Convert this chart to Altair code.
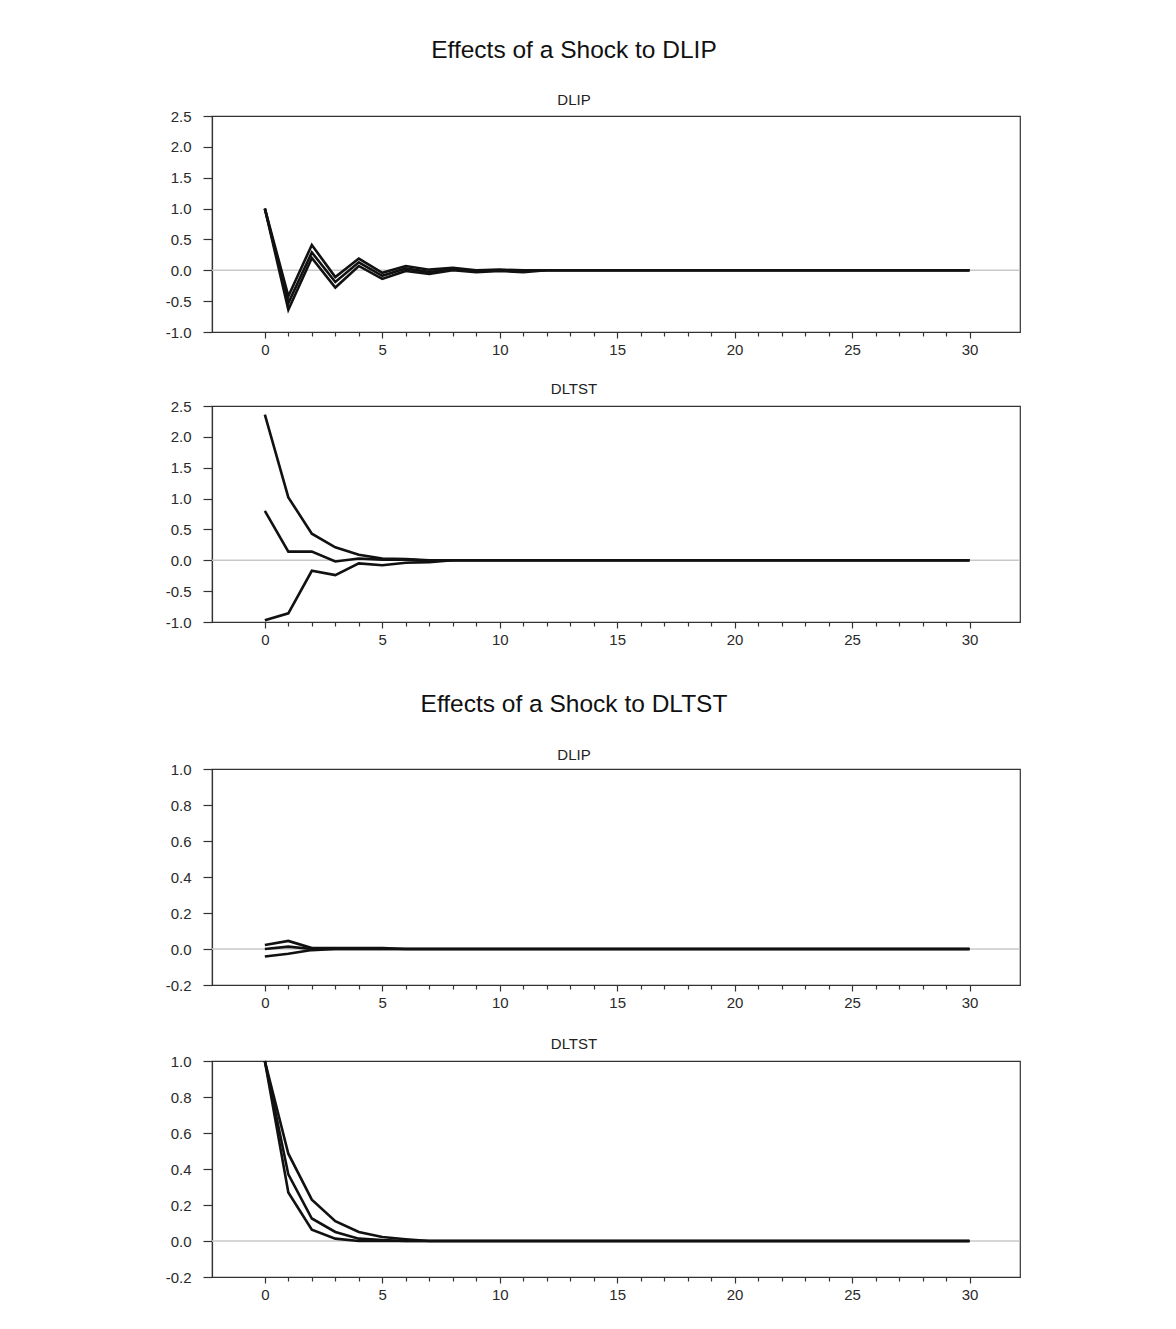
import altair as alt
import pandas as pd

# Horizon (periods after shock)
horizon = [0, 1, 2, 3, 4, 5, 6, 7, 8, 9, 10, 11, 12, 13, 14, 15,
           16, 17, 18, 19, 20, 21, 22, 23, 24, 25, 26, 27, 28, 29, 30]

# Shock to DLIP -> response of DLIP (upper band, estimate, lower band)
dlip_dlip_upper = [1.00, -0.42, 0.41, -0.11, 0.19, -0.04, 0.07, 0.01, 0.04, 0.00, 0.01,
                   0.00, 0.00, 0.00, 0.00, 0.00, 0.00, 0.00, 0.00, 0.00, 0.00, 0.00,
                   0.00, 0.00, 0.00, 0.00, 0.00, 0.00, 0.00, 0.00, 0.00]
dlip_dlip_mid = [1.00, -0.53, 0.29, -0.19, 0.13, -0.09, 0.03, -0.03, 0.02, -0.01, 0.00,
                 -0.01, 0.00, 0.00, 0.00, 0.00, 0.00, 0.00, 0.00, 0.00, 0.00, 0.00,
                 0.00, 0.00, 0.00, 0.00, 0.00, 0.00, 0.00, 0.00, 0.00]
dlip_dlip_lower = [1.00, -0.64, 0.20, -0.28, 0.07, -0.14, -0.01, -0.06, 0.00, -0.03, -0.01,
                   -0.03, 0.00, 0.00, 0.00, 0.00, 0.00, 0.00, 0.00, 0.00, 0.00, 0.00,
                   0.00, 0.00, 0.00, 0.00, 0.00, 0.00, 0.00, 0.00, 0.00]

# Shock to DLIP -> response of DLTST
dlip_dltst_upper = [2.36, 1.02, 0.43, 0.21, 0.09, 0.03, 0.02, 0.00, 0.00, 0.00, 0.00,
                    0.00, 0.00, 0.00, 0.00, 0.00, 0.00, 0.00, 0.00, 0.00, 0.00, 0.00,
                    0.00, 0.00, 0.00, 0.00, 0.00, 0.00, 0.00, 0.00, 0.00]
dlip_dltst_mid = [0.80, 0.14, 0.14, -0.02, 0.03, 0.01, 0.01, -0.01, 0.00, 0.00, 0.00,
                  0.00, 0.00, 0.00, 0.00, 0.00, 0.00, 0.00, 0.00, 0.00, 0.00, 0.00,
                  0.00, 0.00, 0.00, 0.00, 0.00, 0.00, 0.00, 0.00, 0.00]
dlip_dltst_lower = [-0.97, -0.86, -0.17, -0.24, -0.05, -0.08, -0.04, -0.03, 0.00, 0.00, 0.00,
                    0.00, 0.00, 0.00, 0.00, 0.00, 0.00, 0.00, 0.00, 0.00, 0.00, 0.00,
                    0.00, 0.00, 0.00, 0.00, 0.00, 0.00, 0.00, 0.00, 0.00]

# Shock to DLTST -> response of DLIP
dltst_dlip_upper = [0.022, 0.045, 0.005, 0.005, 0.005, 0.005, 0.00, 0.00, 0.00, 0.00, 0.00,
                    0.00, 0.00, 0.00, 0.00, 0.00, 0.00, 0.00, 0.00, 0.00, 0.00, 0.00,
                    0.00, 0.00, 0.00, 0.00, 0.00, 0.00, 0.00, 0.00, 0.00]
dltst_dlip_mid = [0.000, 0.013, 0.000, 0.000, 0.000, 0.000, 0.00, 0.00, 0.00, 0.00, 0.00,
                  0.00, 0.00, 0.00, 0.00, 0.00, 0.00, 0.00, 0.00, 0.00, 0.00, 0.00,
                  0.00, 0.00, 0.00, 0.00, 0.00, 0.00, 0.00, 0.00, 0.00]
dltst_dlip_lower = [-0.042, -0.026, -0.006, 0.000, 0.000, 0.000, 0.00, 0.00, 0.00, 0.00, 0.00,
                    0.00, 0.00, 0.00, 0.00, 0.00, 0.00, 0.00, 0.00, 0.00, 0.00, 0.00,
                    0.00, 0.00, 0.00, 0.00, 0.00, 0.00, 0.00, 0.00, 0.00]

# Shock to DLTST -> response of DLTST
dltst_dltst_upper = [1.00, 0.485, 0.23, 0.11, 0.05, 0.022, 0.01, 0.00, 0.00, 0.00, 0.00,
                     0.00, 0.00, 0.00, 0.00, 0.00, 0.00, 0.00, 0.00, 0.00, 0.00, 0.00,
                     0.00, 0.00, 0.00, 0.00, 0.00, 0.00, 0.00, 0.00, 0.00]
dltst_dltst_mid = [1.00, 0.37, 0.125, 0.05, 0.013, 0.005, 0.00, 0.00, 0.00, 0.00, 0.00,
                   0.00, 0.00, 0.00, 0.00, 0.00, 0.00, 0.00, 0.00, 0.00, 0.00, 0.00,
                   0.00, 0.00, 0.00, 0.00, 0.00, 0.00, 0.00, 0.00, 0.00]
dltst_dltst_lower = [1.00, 0.27, 0.063, 0.013, 0.00, 0.00, 0.00, 0.00, 0.00, 0.00, 0.00,
                     0.00, 0.00, 0.00, 0.00, 0.00, 0.00, 0.00, 0.00, 0.00, 0.00, 0.00,
                     0.00, 0.00, 0.00, 0.00, 0.00, 0.00, 0.00, 0.00, 0.00]

y_ticks_dlip_shock = [-1.0, -0.5, 0.0, 0.5, 1.0, 1.5, 2.0, 2.5]
y_ticks_dltst_shock = [-0.2, 0.0, 0.2, 0.4, 0.6, 0.8, 1.0]

FONT = "Liberation Sans"
PLOT_W = 808
PLOT_H = 216
TITLE_DX = -42


def panel(upper, mid, lower, ydom, yvals, title):
    df = pd.DataFrame({
        "t": horizon * 3,
        "value": upper + mid + lower,
        "band": ["upper"] * len(horizon) + ["mid"] * len(horizon) + ["lower"] * len(horizon),
    })
    yscale = alt.Scale(domain=ydom, nice=False, zero=False)
    xscale = alt.Scale(domain=[-2.25, 32.15], nice=False, zero=False)
    yaxis = alt.Axis(
        title=None,
        values=yvals,
        labelExpr="replace(format(datum.value, '.1f'), '\u2212', '-')",
        labelOverlap=False,
        tickSize=9,
        labelPadding=12,
        grid=False,
    )
    xaxis = alt.Axis(
        title=None,
        values=horizon,
        labelExpr="datum.value % 5 === 0 ? datum.label : ''",
        labelOverlap=False,
        tickSize={"condition": {"test": "datum.value % 5 === 0", "value": 6}, "value": 4},
        labelPadding=4,
        grid=False,
    )
    zero = alt.Chart(pd.DataFrame({"value": [0.0]})).mark_rule(
        color="#c8c8c8", strokeWidth=1.5
    ).encode(y=alt.Y("value:Q", scale=yscale, axis=yaxis))
    lines = alt.Chart(df).mark_line(color="#111111", strokeWidth=2.6).encode(
        x=alt.X("t:Q", scale=xscale, axis=xaxis),
        y=alt.Y("value:Q", scale=yscale, axis=yaxis),
        detail="band:N",
    )
    return alt.layer(zero, lines).properties(width=PLOT_W, height=PLOT_H, title=title)


def big_title(main, sub, offset):
    return alt.TitleParams(
        text=main, subtitle=sub, anchor="middle", dx=TITLE_DX,
        font=FONT, fontSize=24.5, fontWeight="normal", color="#111111",
        subtitleFont=FONT, subtitleFontSize=15, subtitleColor="#222222",
        subtitlePadding=30, offset=offset,
    )


def small_title(text):
    return alt.TitleParams(
        text=text, anchor="middle", dx=TITLE_DX,
        font=FONT, fontSize=15, fontWeight="normal", color="#222222",
        offset=2.5,
    )


p1 = panel(dlip_dlip_upper, dlip_dlip_mid, dlip_dlip_lower, [-1.0, 2.5], y_ticks_dlip_shock,
           big_title("Effects of a Shock to DLIP", "DLIP", 0))
p2 = panel(dlip_dltst_upper, dlip_dltst_mid, dlip_dltst_lower, [-1.0, 2.5], y_ticks_dlip_shock,
           small_title("DLTST"))
p3 = panel(dltst_dlip_upper, dltst_dlip_mid, dltst_dlip_lower, [-0.2, 1.0], y_ticks_dltst_shock,
           big_title("Effects of a Shock to DLTST", "DLIP", -1.5))
p4 = panel(dltst_dltst_upper, dltst_dltst_mid, dltst_dltst_lower, [-0.2, 1.0], y_ticks_dltst_shock,
           small_title("DLTST"))

group1 = alt.vconcat(p1, p2, spacing=22)
group2 = alt.vconcat(p3, p4, spacing=24)

chart = alt.vconcat(group1, group2, spacing=43).properties(
    padding={"left": 156, "top": 28, "right": 10, "bottom": 10},
    background="white",
).configure_view(
    stroke="#333333", strokeWidth=1.2
).configure_axis(
    labelFont=FONT, labelFontSize=15, labelColor="#2a2a2a",
    tickColor="#333333", tickWidth=1.2,
    domainColor="#333333", domainWidth=1.2,
)

chart.save("out.html", embed_options={"renderer": "svg", "actions": False})
